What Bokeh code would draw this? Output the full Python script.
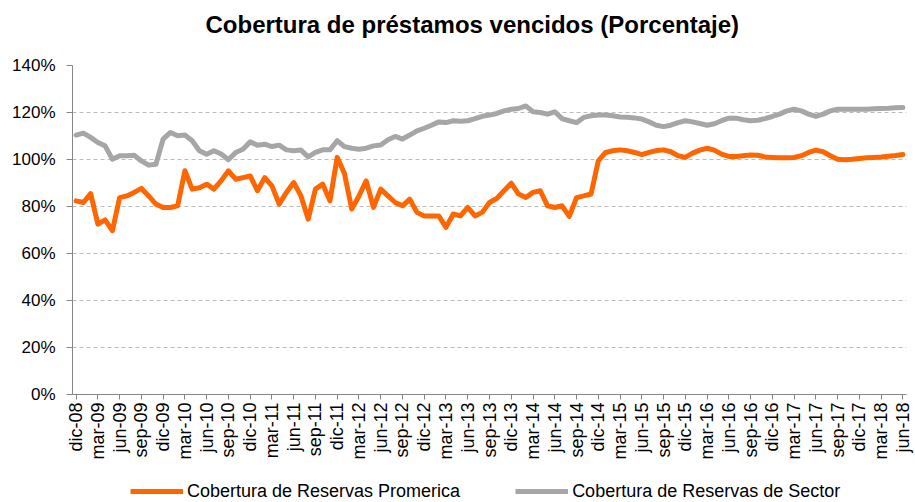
import math
from bokeh.plotting import figure
from bokeh.models import Range1d, FixedTicker, Legend, LegendItem, Title
from bokeh.layouts import column
from bokeh.embed import file_html
from bokeh.resources import INLINE

tick_labels = ["dic-08", "mar-09", "jun-09", "sep-09", "dic-09", "mar-10", "jun-10", "sep-10",
               "dic-10", "mar-11", "jun-11", "sep-11", "dic-11", "mar-12", "jun-12", "sep-12",
               "dic-12", "mar-13", "jun-13", "sep-13", "dic-13", "mar-14", "jun-14", "sep-14",
               "dic-14", "mar-15", "jun-15", "sep-15", "dic-15", "mar-16", "jun-16", "sep-16",
               "dic-16", "mar-17", "jun-17", "sep-17", "dic-17", "mar-18", "jun-18"]

promerica = [82.4, 81.7, 85.5, 72.5, 74.3, 69.7, 83.8, 84.5, 86.0, 87.7,
             84.5, 81.0, 79.6, 79.6, 80.3, 95.2, 87.4, 88.0, 89.5, 87.4,
             91.0, 95.2, 91.6, 92.3, 93.0, 86.7, 92.3, 88.8, 81.0, 86.0,
             90.2, 84.5, 74.6, 87.4, 89.5, 82.4, 100.9, 94.0, 78.9, 84.5,
             90.9, 79.6, 87.4, 84.5, 81.7, 80.3, 83.1, 77.5, 76.0, 76.0,
             76.0, 71.1, 76.8, 76.0, 79.6, 76.0, 77.5, 81.7, 83.4, 86.7,
             89.9, 85.3, 83.8, 86.0, 86.7, 80.3, 79.6, 80.3, 75.8, 83.8,
             84.5, 85.3, 99.4, 103.0, 103.7, 104.1, 103.7, 103.0, 102.1, 103.0,
             103.8, 104.1, 103.3, 101.6, 100.9, 102.7, 104.0, 104.8, 104.0, 102.3,
             101.3, 101.3, 101.6, 101.9, 101.8, 101.1, 100.9, 100.7, 100.7, 100.9,
             101.6, 103.0, 104.0, 103.3, 101.6, 100.1, 99.9, 100.1, 100.4, 100.7,
             100.9, 101.1, 101.4, 101.7, 102.1]

sector = [110.4, 111.2, 109.4, 107.2, 105.8, 100.1, 101.6, 101.6, 101.8, 99.4,
          97.6, 98.0, 108.7, 111.5, 110.1, 110.4, 108.0, 103.7, 102.2, 103.7,
          102.3, 99.9, 103.0, 104.4, 107.5, 106.1, 106.5, 105.5, 106.1, 104.1,
          103.7, 104.0, 101.1, 103.0, 104.1, 104.1, 108.0, 105.5, 104.8, 104.4,
          104.8, 105.8, 106.2, 108.4, 109.8, 108.7, 110.4, 112.2, 113.3, 114.6,
          116.0, 115.7, 116.5, 116.3, 116.5, 117.4, 118.4, 118.9, 119.6, 120.7,
          121.4, 121.7, 122.8, 120.3, 120.0, 119.3, 120.3, 117.4, 116.5, 115.7,
          117.9, 118.6, 118.9, 118.9, 118.6, 118.1, 118.0, 117.7, 117.2, 116.0,
          114.6, 114.0, 114.6, 115.7, 116.5, 116.0, 115.3, 114.6, 115.2, 116.5,
          117.6, 117.6, 116.9, 116.5, 116.7, 117.4, 118.3, 119.3, 120.7, 121.4,
          120.7, 119.3, 118.3, 119.3, 120.7, 121.4, 121.4, 121.4, 121.4, 121.4,
          121.6, 121.7, 121.8, 122.0, 122.1]

y_ticks = [0, 20, 40, 60, 80, 100, 120, 140]
series_names = ["Cobertura de Reservas Promerica", "Cobertura de Reservas de Sector"]
series_colors = ["#FF6600", "#A6A6A6"]
title_text = "Cobertura de préstamos vencidos (Porcentaje)"

FONT = "Liberation Sans"
n = len(promerica)
x = list(range(n))

p = figure(width=915, height=480, output_backend="svg", toolbar_location=None,
           x_range=Range1d(-0.5, n - 0.5), y_range=Range1d(0, 140),
           min_border_left=72, min_border_right=9, min_border_top=65, min_border_bottom=86)
p.outline_line_color = None
p.background_fill_color = "white"

# spacer between title and plot area, then the title itself (farther from the frame)
p.add_layout(Title(text=" ", text_font=FONT, text_font_size="10px", standoff=10), "above")
p.add_layout(Title(text=title_text, align="left", offset=133, text_font=FONT,
                   text_font_size="24px", text_font_style="bold", text_color="#000000",
                   standoff=10), "above")

# y axis
p.yaxis.ticker = FixedTicker(ticks=y_ticks)
p.yaxis.major_label_overrides = {v: f"{v}%" for v in y_ticks}
p.yaxis.major_label_text_font = FONT
p.yaxis.major_label_text_font_size = "17px"
p.yaxis.major_label_text_color = "#000000"
p.yaxis.axis_line_color = "#868686"
p.yaxis.major_tick_line_color = "#868686"
p.yaxis.major_tick_in = 0
p.yaxis.major_tick_out = 6
p.yaxis.minor_tick_line_color = None
p.yaxis.major_label_standoff = 11

# x axis
xt = list(range(0, n, 3))
p.xaxis.ticker = FixedTicker(ticks=xt)
p.xaxis.major_label_overrides = {t: lab for t, lab in zip(xt, tick_labels)}
p.xaxis.major_label_orientation = math.pi / 2
p.xaxis.major_label_text_font = FONT
p.xaxis.major_label_text_font_size = "18px"
p.xaxis.major_label_text_color = "#000000"
p.xaxis.axis_line_color = "#868686"
p.xaxis.major_tick_line_color = "#868686"
p.xaxis.major_tick_in = 0
p.xaxis.major_tick_out = 5
p.xaxis.minor_tick_line_color = None
p.xaxis.major_label_standoff = 3

p.xgrid.visible = False
p.ygrid.grid_line_color = "#BCBCBC"
p.ygrid.grid_line_dash = "4 3"
p.ygrid.grid_line_width = 1

p.line(x, promerica, line_color=series_colors[0], line_width=5, line_join="round", line_cap="round")
p.line(x, sector, line_color=series_colors[1], line_width=5, line_join="round", line_cap="round")

# legend strip below the chart
leg = figure(width=915, height=22, output_backend="svg", toolbar_location=None,
             x_range=Range1d(0, 1), y_range=Range1d(0, 1),
             min_border_left=72, min_border_right=9, min_border_top=0, min_border_bottom=0)
leg.axis.visible = False
leg.grid.visible = False
leg.outline_line_color = None
items = []
for name, col in zip(series_names, series_colors):
    r = leg.line(x=[float("nan")], y=[float("nan")], line_color=col, line_width=5)
    items.append(LegendItem(label=name, renderers=[r]))
legend = Legend(items=items, orientation="horizontal", location=(58, 0),
                glyph_width=53, glyph_height=22, label_height=22, label_standoff=4,
                spacing=55, padding=0, margin=0,
                label_text_font=FONT, label_text_font_size="18px", label_text_color="#000000",
                border_line_color=None, background_fill_alpha=0)
leg.add_layout(legend, "center")

layout = column(p, leg, spacing=0)
open("out.html", "w").write(file_html(layout, INLINE))
